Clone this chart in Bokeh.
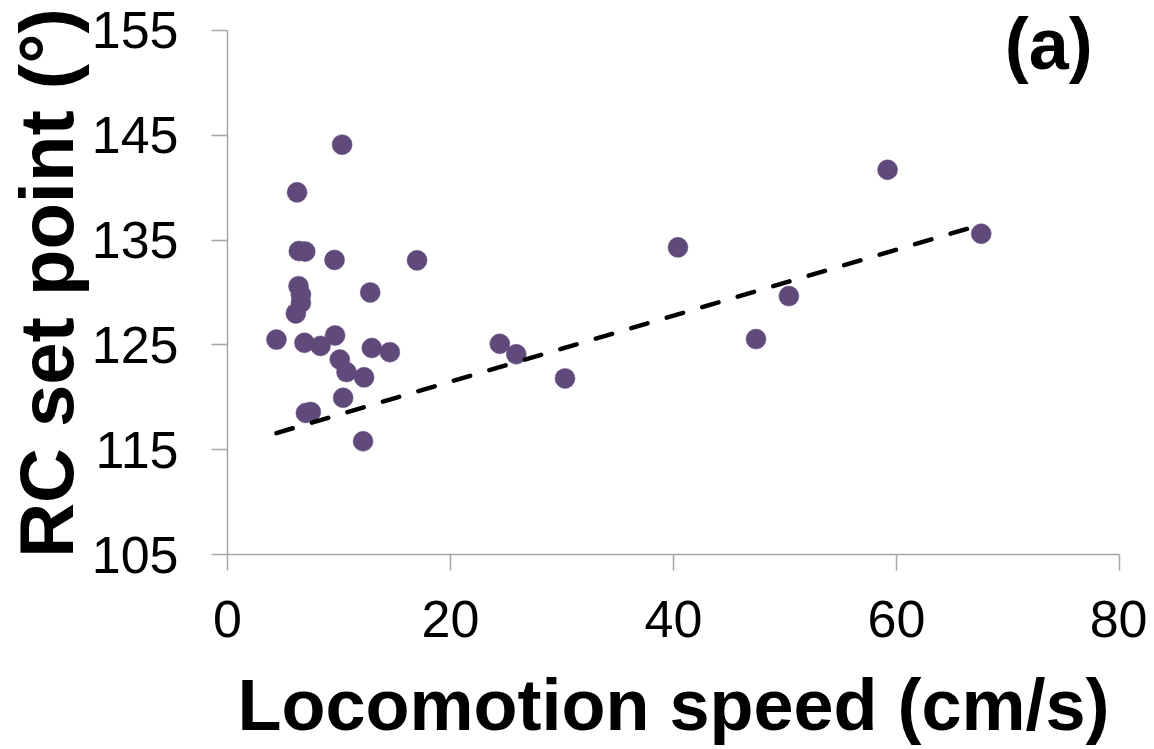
from bokeh.plotting import figure
from bokeh.models import Range1d, Label, FixedTicker
from bokeh.embed import file_html
from bokeh.resources import INLINE

# Data
speed = [4.39, 10.28, 6.24, 6.40, 6.97, 9.60, 17.0, 6.37, 12.8, 6.58, 6.58, 6.13,
         6.90, 8.34, 9.65, 10.07, 10.67, 12.25, 12.94, 14.56, 10.37, 7.03, 7.47,
         12.16, 24.42, 25.9, 30.27, 40.4, 47.4, 50.35, 59.2, 67.6]
set_point = [125.5, 144.1, 139.55, 133.95, 133.9, 133.1, 133.06, 130.6, 130.0, 129.8,
             129.0, 128.0, 125.2, 124.9, 125.9, 123.6, 122.4, 121.9, 124.7, 124.3,
             119.95, 118.5, 118.6, 115.8, 125.1, 124.1, 121.8, 134.3, 125.55, 129.65,
             141.7, 135.6]
trend_slope = 0.3146
trend_intercept = 115.2
x_ticks = [0, 20, 40, 60, 80]
y_ticks = [105, 115, 125, 135, 145, 155]
panel_label = "(a)"

FONT = "Liberation Sans"
PURPLE = "#604A7B"
AXIS_GRAY = "#A6A6A6"

# the frame extends a little above 155 so that the panel label is not clipped;
# the y axis itself stops at 155 via its bounds
p = figure(
    frame_width=892, frame_height=543,
    min_border_left=200, min_border_right=28, min_border_top=11, min_border_bottom=150,
    x_range=Range1d(0, 80), y_range=Range1d(105, 156.8),
    output_backend="svg", toolbar_location=None,
)
p.outline_line_color = None
p.xgrid.visible = False
p.ygrid.visible = False
p.background_fill_color = "white"
p.border_fill_color = "white"

for ax in (p.xaxis[0], p.yaxis[0]):
    ax.axis_line_color = AXIS_GRAY
    ax.axis_line_width = 1.5
    ax.major_tick_line_color = AXIS_GRAY
    ax.major_tick_line_width = 1.5
    ax.major_tick_out = 16
    ax.major_tick_in = 0
    ax.minor_tick_line_color = None
    ax.major_label_text_font = FONT
    ax.major_label_text_font_size = "52px"
    ax.major_label_text_color = "black"
    ax.axis_label_text_font = FONT
    ax.axis_label_text_font_style = "bold"
    ax.axis_label_text_color = "black"

p.yaxis.bounds = (105, 155)
p.xaxis.axis_label_text_font_size = "72px"
p.yaxis.axis_label_text_font_size = "76px"
p.xaxis.ticker = FixedTicker(ticks=x_ticks)
p.yaxis.ticker = FixedTicker(ticks=y_ticks)
p.xaxis.axis_label = "Locomotion speed (cm/s)"
p.yaxis.axis_label = "RC set point (°)"
p.xaxis.major_label_standoff = 30
p.xaxis.axis_label_standoff = 25
p.yaxis.major_label_standoff = 33
p.yaxis.axis_label_standoff = 0

p.scatter(speed, set_point, size=20, fill_color=PURPLE, line_color=PURPLE, line_width=0.5)

x0, x1 = min(speed), max(speed)
p.line([x0, x1], [trend_intercept + trend_slope * x0, trend_intercept + trend_slope * x1],
       line_color="black", line_width=4.5, line_dash="17 20", line_cap="round")

p.add_layout(Label(x=69.7, y=153.7, text=panel_label, text_font=FONT, text_font_size="72px",
                   text_font_style="bold", text_color="black", text_align="left",
                   text_baseline="alphabetic"))

open("out.html", "w").write(file_html(p, INLINE))
